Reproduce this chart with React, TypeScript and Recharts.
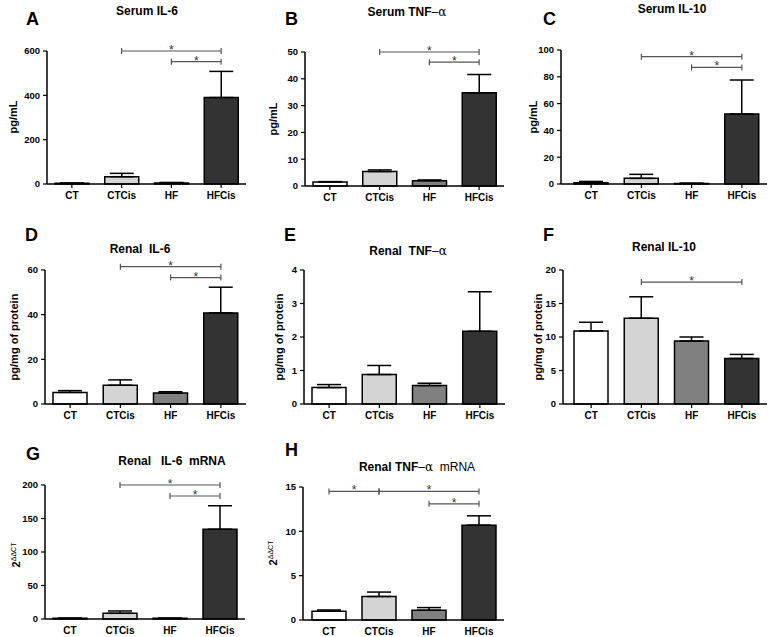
import React from "react";
import {
  BarChart,
  Bar,
  XAxis,
  YAxis,
  Cell,
  ErrorBar,
  ReferenceLine,
} from "recharts";

const groups = ["CT", "CTCis", "HF", "HFCis"];
const groupColors = ["#ffffff", "#d4d4d4", "#808080", "#333333"];

// mean and upper SEM per group
const serumIL6Mean = [3, 33, 4, 390];
const serumIL6Sem = [1, 15, 3, 118];
const serumTNFMean = [1.5, 5.4, 2.0, 34.8];
const serumTNFSem = [0.15, 0.6, 0.25, 6.8];
const serumIL10Mean = [1.0, 4.2, 0.4, 52.2];
const serumIL10Sem = [0.9, 3.0, 0.2, 25.4];
const renalIL6Mean = [5.2, 8.4, 4.9, 40.8];
const renalIL6Sem = [0.8, 2.4, 0.6, 11.5];
const renalTNFMean = [0.49, 0.88, 0.55, 2.17];
const renalTNFSem = [0.09, 0.27, 0.07, 1.18];
const renalIL10Mean = [10.9, 12.8, 9.4, 6.8];
const renalIL10Sem = [1.3, 3.2, 0.6, 0.6];
const il6mRNAMean = [1.0, 8.5, 1.0, 134];
const il6mRNASem = [0.3, 3.5, 0.3, 35];
const tnfmRNAMean = [1.0, 2.65, 1.1, 10.7];
const tnfmRNASem = [0.13, 0.5, 0.3, 1.05];

const ticksA = [0, 200, 400, 600];
const ticksB = [0, 10, 20, 30, 40, 50];
const ticksC = [0, 20, 40, 60, 80, 100];
const ticksD = [0, 20, 40, 60];
const ticksE = [0, 1, 2, 3, 4];
const ticksF = [0, 5, 10, 15, 20];
const ticksG = [0, 50, 100, 150, 200];
const ticksH = [0, 5, 10, 15];

// significance brackets: from group, to group, height in data units
const sigA = [
  { from: "CTCis", to: "HFCis", y: 600 },
  { from: "HF", to: "HFCis", y: 552 },
];
const sigB = [
  { from: "CTCis", to: "HFCis", y: 50 },
  { from: "HF", to: "HFCis", y: 46.2 },
];
const sigC = [
  { from: "CTCis", to: "HFCis", y: 95 },
  { from: "HF", to: "HFCis", y: 87 },
];
const sigD = [
  { from: "CTCis", to: "HFCis", y: 61.5 },
  { from: "HF", to: "HFCis", y: 56.6 },
];
const sigE: { from: string; to: string; y: number }[] = [];
const sigF = [{ from: "CTCis", to: "HFCis", y: 18.2 }];
const sigG = [
  { from: "CTCis", to: "HFCis", y: 200 },
  { from: "HF", to: "HFCis", y: 183.6 },
];
const sigH = [
  { from: "CT", to: "CTCis", y: 14.5 },
  { from: "CTCis", to: "HFCis", y: 14.5 },
  { from: "HF", to: "HFCis", y: 13.1 },
];

const FONT = "'Liberation Sans', Arial, sans-serif";

type Layout = {
  axisX: number;
  bandStart: number;
  bandEnd: number;
  top: number;
  bottom: number;
  xTick: number;
};

type PanelProps = {
  mean: number[];
  sem: number[];
  ticks: number[];
  sig: { from: string; to: string; y: number }[];
  lay: Layout;
};

const Panel = ({ mean, sem, ticks, sig, lay }: PanelProps) => {
  const YW = 40;
  const TOP = 20;
  const XH = 24;
  const RIGHT = 6;
  const width = YW + (lay.bandEnd - lay.axisX) + RIGHT;
  const height = TOP + (lay.bottom - lay.top) + XH;
  const max = ticks[ticks.length - 1];
  const cap = (max / (lay.bottom - lay.top)) * 3;
  const rows = groups.map((g, i) => ({
    name: g,
    value: mean[i],
    err: [0, sem[i]],
  }));

  return (
    <div style={{ position: "absolute", left: lay.axisX - YW, top: lay.top - TOP }}>
      <BarChart
        width={width}
        height={height}
        data={rows}
        margin={{ top: TOP, right: RIGHT, bottom: 0, left: 0 }}
        barSize={34}
      >
        <XAxis
          dataKey="name"
          height={XH}
          interval={0}
          padding={{ left: lay.bandStart - lay.axisX, right: 0 }}
          axisLine={{ stroke: "#000", strokeWidth: 1.5 }}
          tickLine={lay.xTick > 0 ? { stroke: "#000", strokeWidth: 1.2 } : false}
          tickSize={lay.xTick}
          tickMargin={7.5 - lay.xTick}
          tick={{ fill: "#000", fontSize: 10, fontWeight: 700, fontFamily: FONT }}
        />
        <YAxis
          width={YW}
          domain={[0, max]}
          ticks={ticks}
          interval={0}
          axisLine={{ stroke: "#000", strokeWidth: 1.5 }}
          tickLine={{ stroke: "#000", strokeWidth: 1.2 }}
          tickSize={4}
          tickMargin={3}
          tick={{ fill: "#000", fontSize: 9.5, fontWeight: 700, fontFamily: FONT }}
        />
        <Bar dataKey="value" stroke="#000" strokeWidth={1.5} isAnimationActive={false}>
          {rows.map((r, i) => (
            <Cell key={r.name} fill={groupColors[i]} />
          ))}
          <ErrorBar dataKey="err" width={12} stroke="#000" strokeWidth={1.5} direction="y" />
        </Bar>
        {sig.map((s, i) => (
          <ReferenceLine
            key={"l" + i}
            segment={[
              { x: s.from, y: s.y },
              { x: s.to, y: s.y },
            ]}
            ifOverflow="visible"
            stroke="#555"
            strokeWidth={1.2}
            label={{ value: "*", position: "top", offset: -3, fill: "#333", fontSize: 12, fontFamily: FONT }}
          />
        ))}
        {sig.flatMap((s, i) =>
          [s.from, s.to].map((g, j) => (
            <ReferenceLine
              key={"c" + i + j}
              segment={[
                { x: g, y: s.y - cap },
                { x: g, y: s.y + cap },
              ]}
              ifOverflow="visible"
              stroke="#555"
              strokeWidth={1.2}
            />
          ))
        )}
      </BarChart>
    </div>
  );
};

const abs = (x: number, y: number): React.CSSProperties => ({
  position: "absolute",
  left: x,
  top: y,
  whiteSpace: "pre",
  lineHeight: 1,
});

const Letter = ({ x, y, t }: { x: number; y: number; t: string }) => (
  <div style={{ ...abs(x, y - 2), fontSize: 18, fontWeight: 700 }}>{t}</div>
);

const Title = ({ cx, cy, children }: { cx: number; cy: number; children: React.ReactNode }) => (
  <div style={{ ...abs(cx, cy - 6), transform: "translateX(-50%)", fontSize: 12, fontWeight: 700 }}>
    {children}
  </div>
);

const YLabel = ({ cx, cy, children }: { cx: number; cy: number; children: React.ReactNode }) => (
  <div
    style={{
      ...abs(cx, cy),
      transform: "translate(-50%, -50%) rotate(-90deg)",
      fontSize: 11,
      fontWeight: 700,
    }}
  >
    {children}
  </div>
);

const Alpha = () => (
  <span style={{ fontWeight: 400 }}>
    {"\u2013"}
    <span style={{ fontFamily: "'DejaVu Serif', serif", fontSize: 12 }}>α</span>
  </span>
);

const Ddct = () => (
  <span>
    2
    <sup style={{ fontSize: 7, fontWeight: 400, verticalAlign: "4px" }}>ΔΔCT</sup>
  </span>
);

export default function App() {
  return (
    <div
      style={{
        position: "absolute",
        left: 0,
        top: 0,
        width: 771,
        height: 637,
        background: "#fff",
        fontFamily: FONT,
        color: "#000",
      }}
    >
      <Panel mean={serumIL6Mean} sem={serumIL6Sem} ticks={ticksA} sig={sigA}
        lay={{ axisX: 47, bandStart: 47, bandEnd: 246, top: 51, bottom: 184, xTick: 4 }} />
      <Panel mean={serumTNFMean} sem={serumTNFSem} ticks={ticksB} sig={sigB}
        lay={{ axisX: 305, bandStart: 305, bandEnd: 504, top: 52, bottom: 186, xTick: 4 }} />
      <Panel mean={serumIL10Mean} sem={serumIL10Sem} ticks={ticksC} sig={sigC}
        lay={{ axisX: 561, bandStart: 566, bandEnd: 767, top: 50, bottom: 184, xTick: 4 }} />
      <Panel mean={renalIL6Mean} sem={renalIL6Sem} ticks={ticksD} sig={sigD}
        lay={{ axisX: 45, bandStart: 45, bandEnd: 246, top: 270, bottom: 404, xTick: 4 }} />
      <Panel mean={renalTNFMean} sem={renalTNFSem} ticks={ticksE} sig={sigE}
        lay={{ axisX: 304, bandStart: 304, bandEnd: 505, top: 270, bottom: 404, xTick: 4 }} />
      <Panel mean={renalIL10Mean} sem={renalIL10Sem} ticks={ticksF} sig={sigF}
        lay={{ axisX: 563, bandStart: 566, bandEnd: 767, top: 270, bottom: 404, xTick: 4 }} />
      <Panel mean={il6mRNAMean} sem={il6mRNASem} ticks={ticksG} sig={sigG}
        lay={{ axisX: 45, bandStart: 45, bandEnd: 245, top: 485, bottom: 619, xTick: 0 }} />
      <Panel mean={tnfmRNAMean} sem={tnfmRNASem} ticks={ticksH} sig={sigH}
        lay={{ axisX: 303, bandStart: 304, bandEnd: 504, top: 487, bottom: 620, xTick: 0 }} />

      <Letter x={26} y={12} t="A" />
      <Letter x={285} y={12} t="B" />
      <Letter x={543} y={12} t="C" />
      <Letter x={25} y={228} t="D" />
      <Letter x={284} y={228} t="E" />
      <Letter x={543} y={228} t="F" />
      <Letter x={26} y={447} t="G" />
      <Letter x={285} y={443} t="H" />

      <Title cx={147} cy={11}>Serum IL-6</Title>
      <Title cx={407} cy={12}>Serum TNF<Alpha /></Title>
      <Title cx={672} cy={9}>Serum IL-10</Title>
      <Title cx={140} cy={249}>Renal  IL-6</Title>
      <Title cx={408} cy={251}>Renal  TNF<Alpha /></Title>
      <Title cx={664} cy={247}>Renal IL-10</Title>
      <Title cx={172} cy={461}>Renal   IL-6  mRNA</Title>
      <Title cx={417} cy={467}>
        Renal TNF<Alpha />  <span style={{ fontWeight: 400 }}>mRNA</span>
      </Title>

      <YLabel cx={13} cy={117}>pg/mL</YLabel>
      <YLabel cx={273} cy={119}>pg/mL</YLabel>
      <YLabel cx={533} cy={117}>pg/mL</YLabel>
      <YLabel cx={14} cy={337}>pg/mg of protein</YLabel>
      <YLabel cx={279} cy={337}>pg/mg of protein</YLabel>
      <YLabel cx={538} cy={337}>pg/mg of protein</YLabel>
      <YLabel cx={16} cy={555}><Ddct /></YLabel>
      <YLabel cx={273} cy={553}><Ddct /></YLabel>
    </div>
  );
}
